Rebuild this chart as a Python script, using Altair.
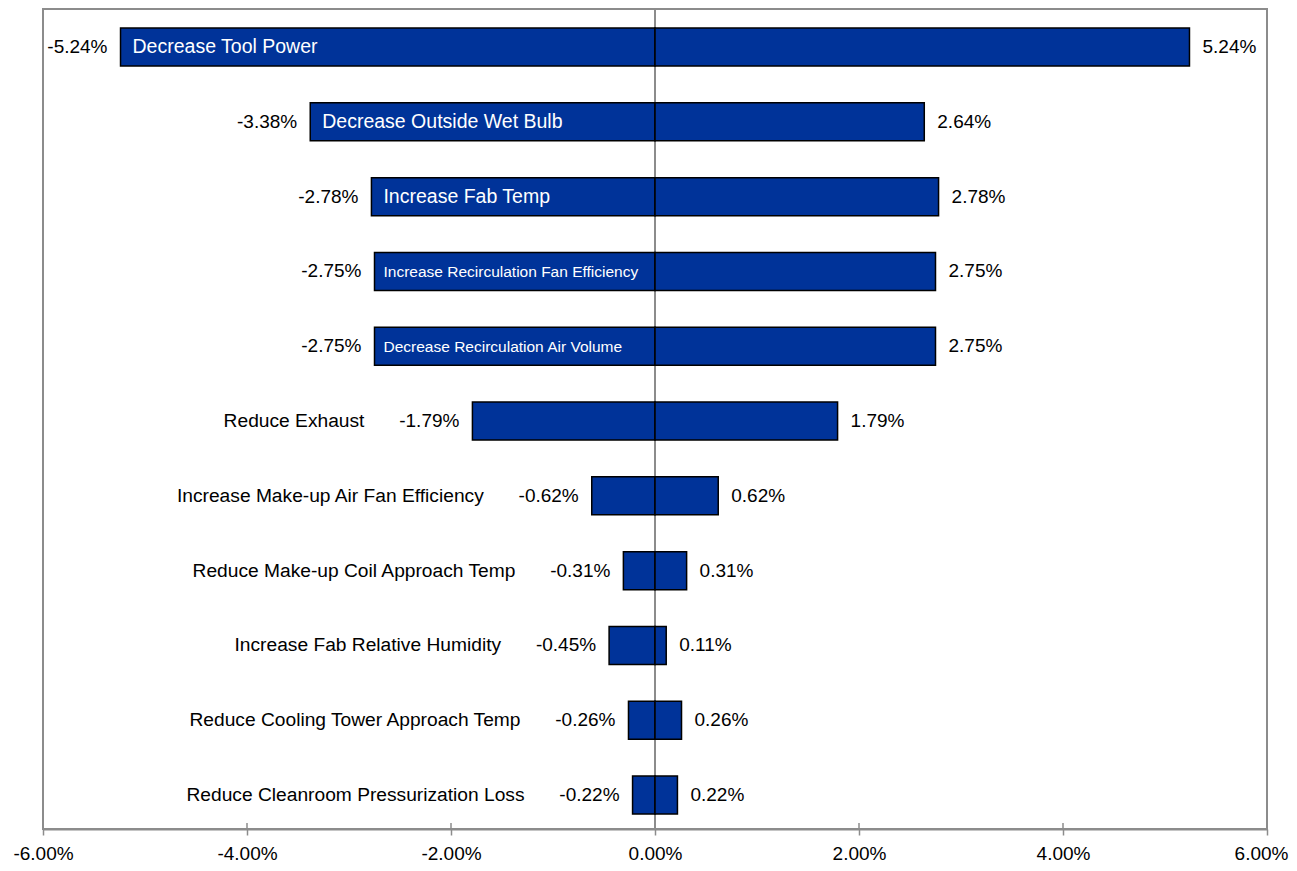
import altair as alt
import pandas as pd

categories = [
    "Decrease Tool Power",
    "Decrease Outside Wet Bulb",
    "Increase Fab Temp",
    "Increase Recirculation Fan Efficiency",
    "Decrease Recirculation Air Volume",
    "Reduce Exhaust",
    "Increase Make-up Air Fan Efficiency",
    "Reduce Make-up Coil Approach Temp",
    "Increase Fab Relative Humidity",
    "Reduce Cooling Tower Approach Temp",
    "Reduce Cleanroom Pressurization Loss",
]
neg_values = [-5.24, -3.38, -2.78, -2.75, -2.75, -1.79, -0.62, -0.31, -0.45, -0.26, -0.22]
pos_values = [5.24, 2.64, 2.78, 2.75, 2.75, 1.79, 0.62, 0.31, 0.11, 0.26, 0.22]
tick_values = [-6, -4, -2, 0, 2, 4, 6]

FONT = "Liberation Sans"
BAR = "#003399"
GRAY = "#8c8c8c"

df = pd.DataFrame({"cat": categories, "neg": neg_values, "pos": pos_values})
df["zero"] = 0.0
df["neg_lbl"] = [f"{v:.2f}%" for v in neg_values]
df["pos_lbl"] = [f"{v:.2f}%" for v in pos_values]
df["inside"] = df["neg"].abs() >= 2.7
df["long"] = df["cat"].str.len() > 28

ticks_df = pd.DataFrame({"t": tick_values})

xscale = alt.Scale(domain=[-6, 6], nice=False, zero=False)
yscale = alt.Scale(paddingInner=0.492, paddingOuter=0.2275, align=0.56)
ysort = categories

base = alt.Chart(df)

y_enc = alt.Y("cat:N", sort=ysort, scale=yscale, axis=None)

label_expr = ("(datum.value < 0 ? '-' : '') + format(abs(datum.value), '.2f') + '%'")

zero_rule = alt.Chart(pd.DataFrame({"x": [0]})).mark_rule(color=GRAY, strokeWidth=2).encode(
    x=alt.X("x:Q", scale=xscale,
            axis=alt.Axis(values=tick_values, labelExpr=label_expr,
                          labelFont=FONT, labelFontSize=19, labelColor="black",
                          labelPadding=9, tickSize=6, tickColor=GRAY, tickWidth=1.5,
                          domainColor=GRAY, domainWidth=2, grid=False, title=None,
                          labelFlush=False, labelOverlap=False,
                          labelOffset={"condition": {"test": "datum.value == 6", "value": -6},
                                       "value": 0}))
)

inner_ticks = alt.Chart(ticks_df).mark_rule(color=GRAY, strokeWidth=1.5).encode(
    x=alt.X("t:Q", scale=xscale),
    y=alt.value(814),
    y2=alt.value(820),
)

neg_bars = base.mark_bar(color=BAR, stroke="black", strokeWidth=1.5).encode(
    x=alt.X("neg:Q", scale=xscale), x2="zero:Q", y=y_enc
)
pos_bars = base.mark_bar(color=BAR, stroke="black", strokeWidth=1.5).encode(
    x=alt.X("pos:Q", scale=xscale), x2="zero:Q", y=y_enc
)

neg_text = base.mark_text(align="right", baseline="middle", dx=-13, font=FONT,
                          fontSize=19, color="black").encode(
    x=alt.X("neg:Q", scale=xscale), y=y_enc, text="neg_lbl:N"
)
pos_text = base.mark_text(align="left", baseline="middle", dx=13, font=FONT,
                          fontSize=19, color="black").encode(
    x=alt.X("pos:Q", scale=xscale), y=y_enc, text="pos_lbl:N"
)

in_big = base.transform_filter("datum.inside && !datum.long").mark_text(
    align="left", baseline="middle", dx=12, font=FONT, fontSize=19.5, color="white"
).encode(x=alt.X("neg:Q", scale=xscale), y=y_enc, text="cat:N")

in_small = base.transform_filter("datum.inside && datum.long").mark_text(
    align="left", baseline="middle", dx=9, dy=1, font=FONT, fontSize=15.5, color="white"
).encode(x=alt.X("neg:Q", scale=xscale), y=y_enc, text="cat:N")

out_lbl = base.transform_filter("!datum.inside").mark_text(
    align="right", baseline="middle", dx=-108, font=FONT, fontSize=19.2, color="black"
).encode(x=alt.X("neg:Q", scale=xscale), y=y_enc, text="cat:N")

chart = alt.layer(
    zero_rule, inner_ticks, neg_bars, pos_bars, neg_text, pos_text, in_big, in_small, out_lbl
).properties(
    width=1224, height=820,
    autosize=alt.AutoSizeParams(type="none"),
    padding={"left": 35, "top": 1, "right": 22, "bottom": 34},
    background="white",
).configure_view(stroke=GRAY, strokeWidth=2)

chart.save("out.html", embed_options={"renderer": "svg", "actions": False})
